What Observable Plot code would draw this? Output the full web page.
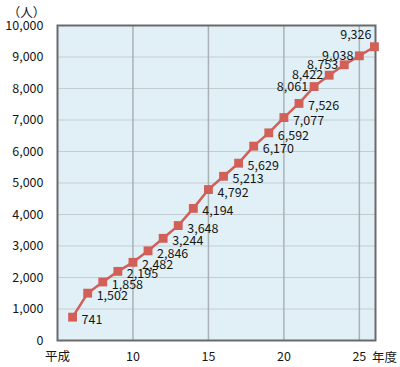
<!DOCTYPE html>
<html><head><meta charset="utf-8">
<script src="https://cdn.jsdelivr.net/npm/d3@7"></script>
<script src="https://cdn.jsdelivr.net/npm/@observablehq/plot@0.6"></script>
<style>body{margin:0;background:#fff}</style>
</head><body><div id="chart"></div>
<script>
const years = [6,7,8,9,10,11,12,13,14,15,16,17,18,19,20,21,22,23,24,25,26];
const values = [741,1502,1858,2195,2482,2846,3244,3648,4194,4792,5213,5629,6170,6592,7077,7526,8061,8422,8753,9038,9326];
const yTicks = [0,1000,2000,3000,4000,5000,6000,7000,8000,9000,10000];
const xTicks = [5,10,15,20,25];
const xTickLabels = ["平成","10","15","20","25"];
const xUnit = "年度";
const yUnit = "（人）";
const leftLabelFrom = 22;

const data = years.map((y, i) => ({year: y, value: values[i]}));
const lastYear = years[years.length - 1];
const fmt = d3.format(",");
const font = "'Noto Sans CJK JP', 'Noto Sans', sans-serif";
const red = "#d25f58";
const ink = "#161616";

const chart = Plot.plot({
  width: 400, height: 367,
  marginLeft: 57, marginRight: 25, marginTop: 25, marginBottom: 27,
  style: {fontFamily: font, fontSize: "12.5px", color: ink, background: "#fff", overflow: "visible"},
  x: {domain: [5, 26.07]},
  y: {domain: [0, 10000]},
  marks: [
    Plot.frame({fill: "#e1f0f6"}),
    Plot.gridY(yTicks.slice(1, -1), {stroke: "#c3cdd1", strokeOpacity: 1}),
    Plot.gridX(xTicks.slice(1), {stroke: "#a8b2b6", strokeOpacity: 1, strokeWidth: 1.5}),
    Plot.frame({stroke: "#6a6a6a", strokeWidth: 2}),
    Plot.axisX(xTicks, {tickSize: 0, tickPadding: 12, tickFormat: d => xTickLabels[xTicks.indexOf(d)], label: null, fontSize: 12.5, fill: ink}),
    Plot.axisY(yTicks, {tickSize: 0, tickPadding: 14, tickFormat: fmt, label: null, fontSize: 12.5, fill: ink}),
    Plot.line(data, {x: "year", y: "value", stroke: red, strokeWidth: 2.5}),
    Plot.dot(data, {x: "year", y: "value", symbol: "square", r: 5, fill: red}),
    Plot.text(data.filter(d => d.year < leftLabelFrom), {x: "year", y: "value", text: d => fmt(d.value), textAnchor: "start", dx: 9, dy: 3, fill: ink}),
    Plot.text(data.filter(d => d.year >= leftLabelFrom && d.year < lastYear), {x: "year", y: "value", text: d => fmt(d.value), textAnchor: "end", dx: -6, dy: 0, fill: ink}),
    Plot.text(data.filter(d => d.year === lastYear), {x: "year", y: "value", text: d => fmt(d.value), textAnchor: "end", dx: -3, dy: -12, fill: ink}),
    Plot.text([yUnit], {frameAnchor: "top-left", textAnchor: "middle", lineAnchor: "middle", dx: -31, dy: -13, fill: ink}),
    Plot.text([xUnit], {frameAnchor: "bottom-right", textAnchor: "middle", lineAnchor: "middle", dx: 9, dy: 17, fill: ink})
  ]
});
document.getElementById("chart").appendChild(chart);
</script>
</body></html>
